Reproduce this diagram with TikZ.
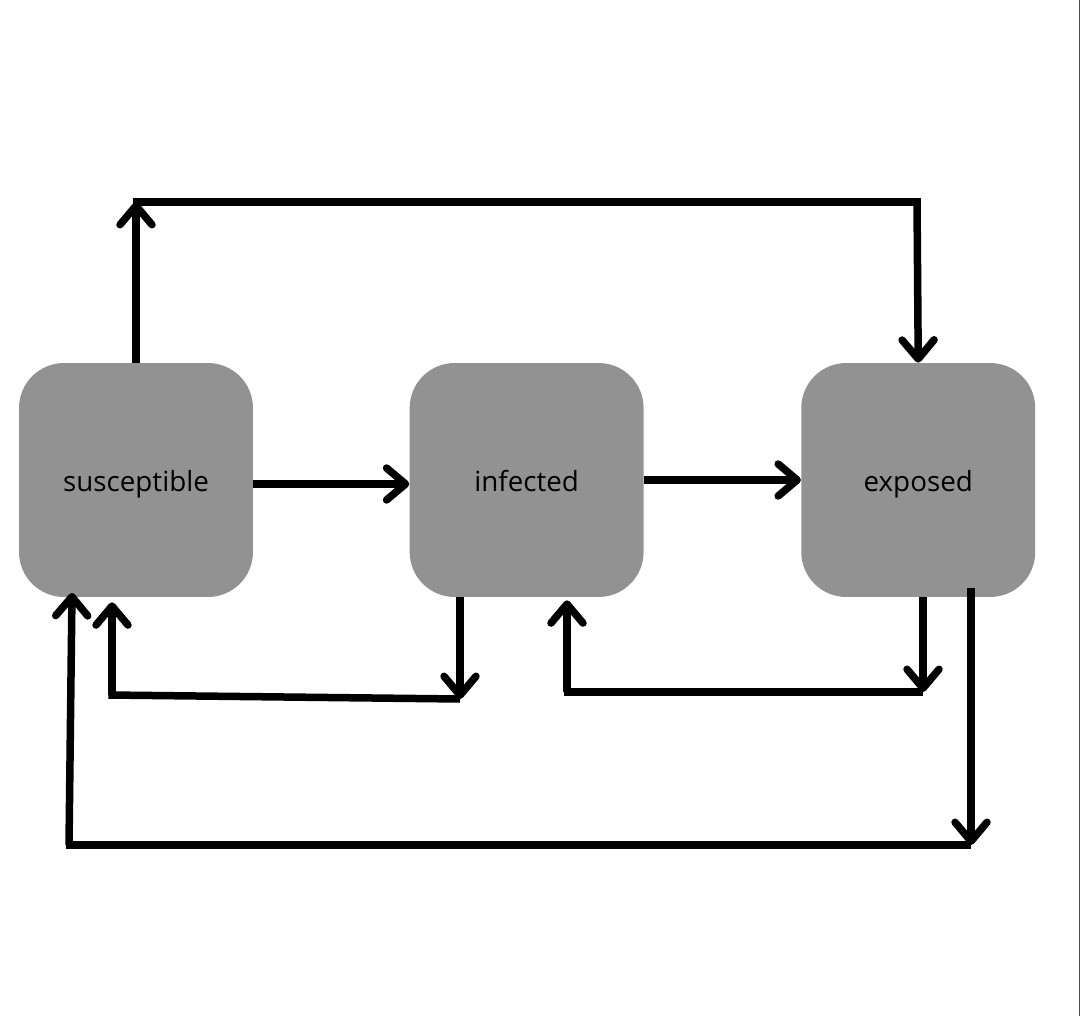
\documentclass[tikz,border=0pt]{standalone}
\usepackage{fontspec}
\setmainfont{Open Sans}
\definecolor{BoxGray}{RGB}{146, 146, 146}
\usetikzlibrary{arrows.meta, positioning}

\tikzset{
    statebox/.style={fill=BoxGray, rounded corners=0.9cm, minimum width=4.68cm, minimum height=4.68cm, align=center, text height=14pt, text depth=0.5pt, font=\fontsize{15.8}{19}\selectfont},
    flow/.style={line width=0.15cm, black},
    tip/.style={-{Straight Barb[length=0.38cm, width=0.64cm, line cap=round, line join=round]}}
}

\begin{document}
\begin{tikzpicture}[x=0.02cm, y=-0.02cm]
    \useasboundingbox (0,0) rectangle (1081,1016);
    \draw[line width=0.02cm, black!70] (1079,0) -- (1079,1016);
    % States
    \node[statebox] (sus) at (136,480) {susceptible};
    \node[statebox, right=3.12cm of sus] (inf) {infected};
    \node[statebox, right=3.14cm of inf] (exp) {exposed};
    % Main flow
    \draw[flow, tip] ([yshift=-0.08cm]sus.east) -- ([yshift=-0.08cm]inf.west);
    \draw[flow, tip] (inf.east) -- (exp.west);
    % Top loop
    \coordinate (t1) at (136,202);
    \coordinate (t2) at (917,202);
    \draw[flow, tip] (sus.north) -- (t1);
    \draw[flow] ([xshift=-0.07cm]t1) -- ([xshift=0.07cm]t2);
    \draw[flow, tip] (t2) -- (exp.north);
    % Infected back loop
    \coordinate (i1) at (460,699);
    \coordinate (i2) at (112,695);
    \draw[flow, tip] (i1 |- inf.south) -- (i1);
    \draw[flow] (i1) -- ([xshift=-0.07cm]i2);
    \draw[flow, tip] (i2) -- ([yshift=-0.1cm]i2 |- sus.south);
    % Exposed back loop
    \coordinate (e1) at (923,692);
    \coordinate (e2) at (567,692);
    \draw[flow, tip] (e1 |- exp.south) -- (e1);
    \draw[flow] (e1) -- ([xshift=-0.07cm]e2);
    \draw[flow, tip] (e2) -- ([yshift=-0.06cm]e2 |- inf.south);
    % Outer loop
    \coordinate (o1) at (971,845);
    \coordinate (o2) at (69,845);
    \draw[flow, tip] ([yshift=0.18cm]o1 |- exp.south) -- (o1);
    \draw[flow] (o1) -- ([xshift=-0.07cm]o2);
    \draw[flow, tip] (o2) -- (72,593);
\end{tikzpicture}
\end{document}
